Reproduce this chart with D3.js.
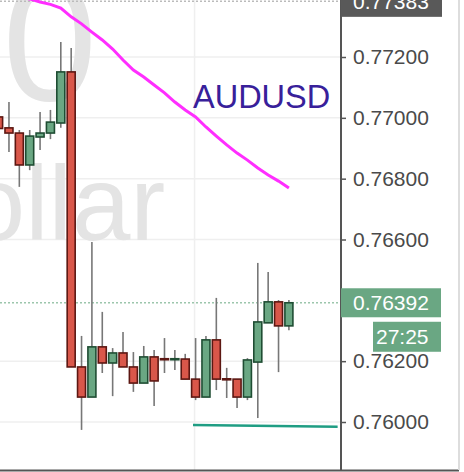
<!DOCTYPE html>
<html>
<head>
<meta charset="utf-8">
<script src="https://cdn.jsdelivr.net/npm/d3@7"></script>
<style>
  body { margin: 0; background: #fff; }
  svg { display: block; font-family: "Liberation Sans", Arial, sans-serif; }
</style>
</head>
<body>
<div id="grafico"></div>
<script>
// Candles (hourly AUDUSD)
const opens  = [0.77003, 0.76967, 0.76950, 0.76845, 0.76937, 0.76950, 0.76983, 0.77151, 0.76181, 0.76082,
                0.76247, 0.76194, 0.76227, 0.76181, 0.76128, 0.76214, 0.76208, 0.76205, 0.76207, 0.76141,
                0.76082, 0.76270, 0.76142, 0.76141, 0.76082, 0.76197, 0.76326, 0.76395, 0.76316];
const highs  = [0.77015, 0.77052, 0.76960, 0.76960, 0.77019, 0.77026, 0.77249, 0.77230, 0.76283, 0.76592,
                0.76362, 0.76243, 0.76296, 0.76230, 0.76250, 0.76237, 0.76276, 0.76237, 0.76224, 0.76276,
                0.76283, 0.76408, 0.76178, 0.76141, 0.76210, 0.76523, 0.76493, 0.76401, 0.76401];
const lows   = [0.76955, 0.76888, 0.76773, 0.76828, 0.76894, 0.76930, 0.76967, 0.76181, 0.75974, 0.76082,
                0.76161, 0.76085, 0.76181, 0.76099, 0.76128, 0.76053, 0.76161, 0.76171, 0.76141, 0.76072,
                0.76082, 0.76105, 0.76079, 0.76046, 0.76072, 0.76013, 0.76326, 0.76164, 0.76302];
const closes = [0.76965, 0.76950, 0.76845, 0.76940, 0.76950, 0.76986, 0.77151, 0.76181, 0.76082, 0.76247,
                0.76194, 0.76227, 0.76181, 0.76128, 0.76214, 0.76135, 0.76205, 0.76208, 0.76141, 0.76082,
                0.76270, 0.76141, 0.76140, 0.76082, 0.76204, 0.76329, 0.76395, 0.76316, 0.76392];

// Moving average (magenta)
const mediaMovel = [0.77414, 0.77404, 0.77397, 0.77391, 0.77381, 0.77373, 0.77361, 0.77332, 0.77309, 0.77282,
                    0.77256, 0.77226, 0.77190, 0.77157, 0.77134, 0.77108, 0.77082, 0.77052, 0.77026, 0.77003,
                    0.76970, 0.76940, 0.76911, 0.76884, 0.76861, 0.76835, 0.76812, 0.76792, 0.76769];

// Teal trend line (candle index, price)
const linhaX = [18.75, 32.7];
const linhaY = [0.75990, 0.75984];

// Price axis (0.76400 sits under the current price tag, so it is left out)
const ticksPreco = [0.772, 0.770, 0.768, 0.766, 0.762, 0.760];
const precoTopo = 0.77383;
const precoAtual = 0.76392;
const contagem = "27:25";
const simbolo = "AUDUSD";

const width = 464, height = 472;
const plotW = 341, plotH = 470;

const svg = d3.select("#grafico").append("svg")
  .attr("width", width)
  .attr("height", height);

svg.append("rect").attr("width", width).attr("height", height).attr("fill", "#fff");

svg.append("clipPath").attr("id", "clipPlot")
  .append("rect").attr("width", plotW).attr("height", plotH);

const x = d3.scaleLinear().domain([0, 28]).range([-1.4, 288.9]);
const y = d3.scaleLinear().domain([0.758422, 0.773874]).range([plotH, 0]);

const plot = svg.append("g").attr("clip-path", "url(#clipPlot)");

// grid
plot.selectAll(".grid-h").data(ticksPreco).enter().append("line")
  .attr("x1", 0).attr("x2", plotW)
  .attr("y1", d => y(d)).attr("y2", d => y(d))
  .attr("stroke", "#efefef").attr("stroke-width", 1.5);

plot.append("line")
  .attr("x1", x(18.9)).attr("x2", x(18.9))
  .attr("y1", 0).attr("y2", plotH)
  .attr("stroke", "#efefef").attr("stroke-width", 1.5);

// watermark
plot.append("text")
  .attr("x", 97).attr("y", 100)
  .attr("text-anchor", "end")
  .attr("font-size", 170)
  .attr("fill", "#e4e4e4")
  .text("0");

plot.append("text")
  .attr("x", -109).attr("y", 240)
  .attr("font-size", 105)
  .attr("fill", "#e4e4e4")
  .text("Dollar");

// symbol label
plot.append("text")
  .attr("x", 193).attr("y", 108)
  .attr("font-size", 32.5)
  .attr("fill", "#38209a")
  .text(simbolo);

// dotted price lines
plot.append("line")
  .attr("x1", 0).attr("x2", plotW)
  .attr("y1", y(precoTopo)).attr("y2", y(precoTopo))
  .attr("stroke", "#bbbbbb").attr("stroke-width", 1.5)
  .attr("stroke-dasharray", "2,2");

plot.append("line")
  .attr("x1", 0).attr("x2", plotW)
  .attr("y1", y(precoAtual)).attr("y2", y(precoAtual))
  .attr("stroke", "#9cc6ac").attr("stroke-width", 1.5)
  .attr("stroke-dasharray", "2,2");

// candles
const candles = d3.range(opens.length).map(i => ({
  i, o: opens[i], h: highs[i], l: lows[i], c: closes[i]
}));

const corpoW = 8;

plot.selectAll(".pavio").data(candles).enter().append("line")
  .attr("x1", d => x(d.i)).attr("x2", d => x(d.i))
  .attr("y1", d => y(d.h)).attr("y2", d => y(d.l))
  .attr("stroke", "#777").attr("stroke-width", 1.6);

plot.selectAll(".corpo").data(candles).enter().append("rect")
  .attr("x", d => x(d.i) - corpoW / 2)
  .attr("width", corpoW)
  .attr("y", d => y(Math.max(d.o, d.c)))
  .attr("height", d => Math.max(1, Math.abs(y(d.o) - y(d.c))))
  .attr("fill", d => d.c >= d.o ? "#6aa783" : "#d9574a")
  .attr("stroke", d => d.c >= d.o ? "#1f4d33" : "#5c1712")
  .attr("stroke-width", 1.6);

// moving average
const linha = d3.line()
  .x((d, i) => x(i))
  .y(d => y(d));

plot.append("path")
  .datum(mediaMovel)
  .attr("fill", "none")
  .attr("stroke", "#ff2eff")
  .attr("stroke-width", 3)
  .attr("d", linha);

// trend line
plot.append("line")
  .attr("x1", x(linhaX[0])).attr("x2", x(linhaX[1]))
  .attr("y1", y(linhaY[0])).attr("y2", y(linhaY[1]))
  .attr("stroke", "#1f9d83").attr("stroke-width", 2.5);

// price axis
const eixo = svg.append("g")
  .attr("transform", `translate(${plotW},0)`)
  .call(d3.axisRight(y).tickValues(ticksPreco).tickFormat(d => d.toFixed(5)).tickSize(5).tickPadding(7));

eixo.select(".domain").remove();
eixo.selectAll(".tick line").attr("stroke", "#555").attr("stroke-width", 1.5);
eixo.selectAll(".tick text")
  .attr("font-size", 21)
  .attr("fill", "#4a4a4a")
  .attr("font-family", "Liberation Sans, Arial, sans-serif");

svg.append("line")
  .attr("x1", plotW).attr("x2", plotW)
  .attr("y1", 0).attr("y2", plotH)
  .attr("stroke", "#555").attr("stroke-width", 2);

svg.append("line")
  .attr("x1", 0).attr("x2", 459)
  .attr("y1", plotH + 0.5).attr("y2", plotH + 0.5)
  .attr("stroke", "#555").attr("stroke-width", 2);

svg.append("line")
  .attr("x1", 459).attr("x2", 459)
  .attr("y1", 0).attr("y2", plotH)
  .attr("stroke", "#dddddd").attr("stroke-width", 2);

// price tags
function etiqueta(x0, x1, yc, h, cor, texto, tx) {
  svg.append("rect")
    .attr("x", x0).attr("y", yc - h / 2)
    .attr("width", x1 - x0).attr("height", h)
    .attr("fill", cor);
  svg.append("text")
    .attr("x", tx).attr("y", yc)
    .attr("dy", "0.36em")
    .attr("font-size", 21)
    .attr("fill", "#fff")
    .text(texto);
}

etiqueta(341, 442, y(precoTopo), 31, "#595959", precoTopo.toFixed(5), 353);
etiqueta(341, 441, y(precoAtual), 29, "#6aa783", precoAtual.toFixed(5), 353);
etiqueta(373, 441, y(precoAtual) + 34, 30, "#6aa783", contagem, 376);
</script>
</body>
</html>
